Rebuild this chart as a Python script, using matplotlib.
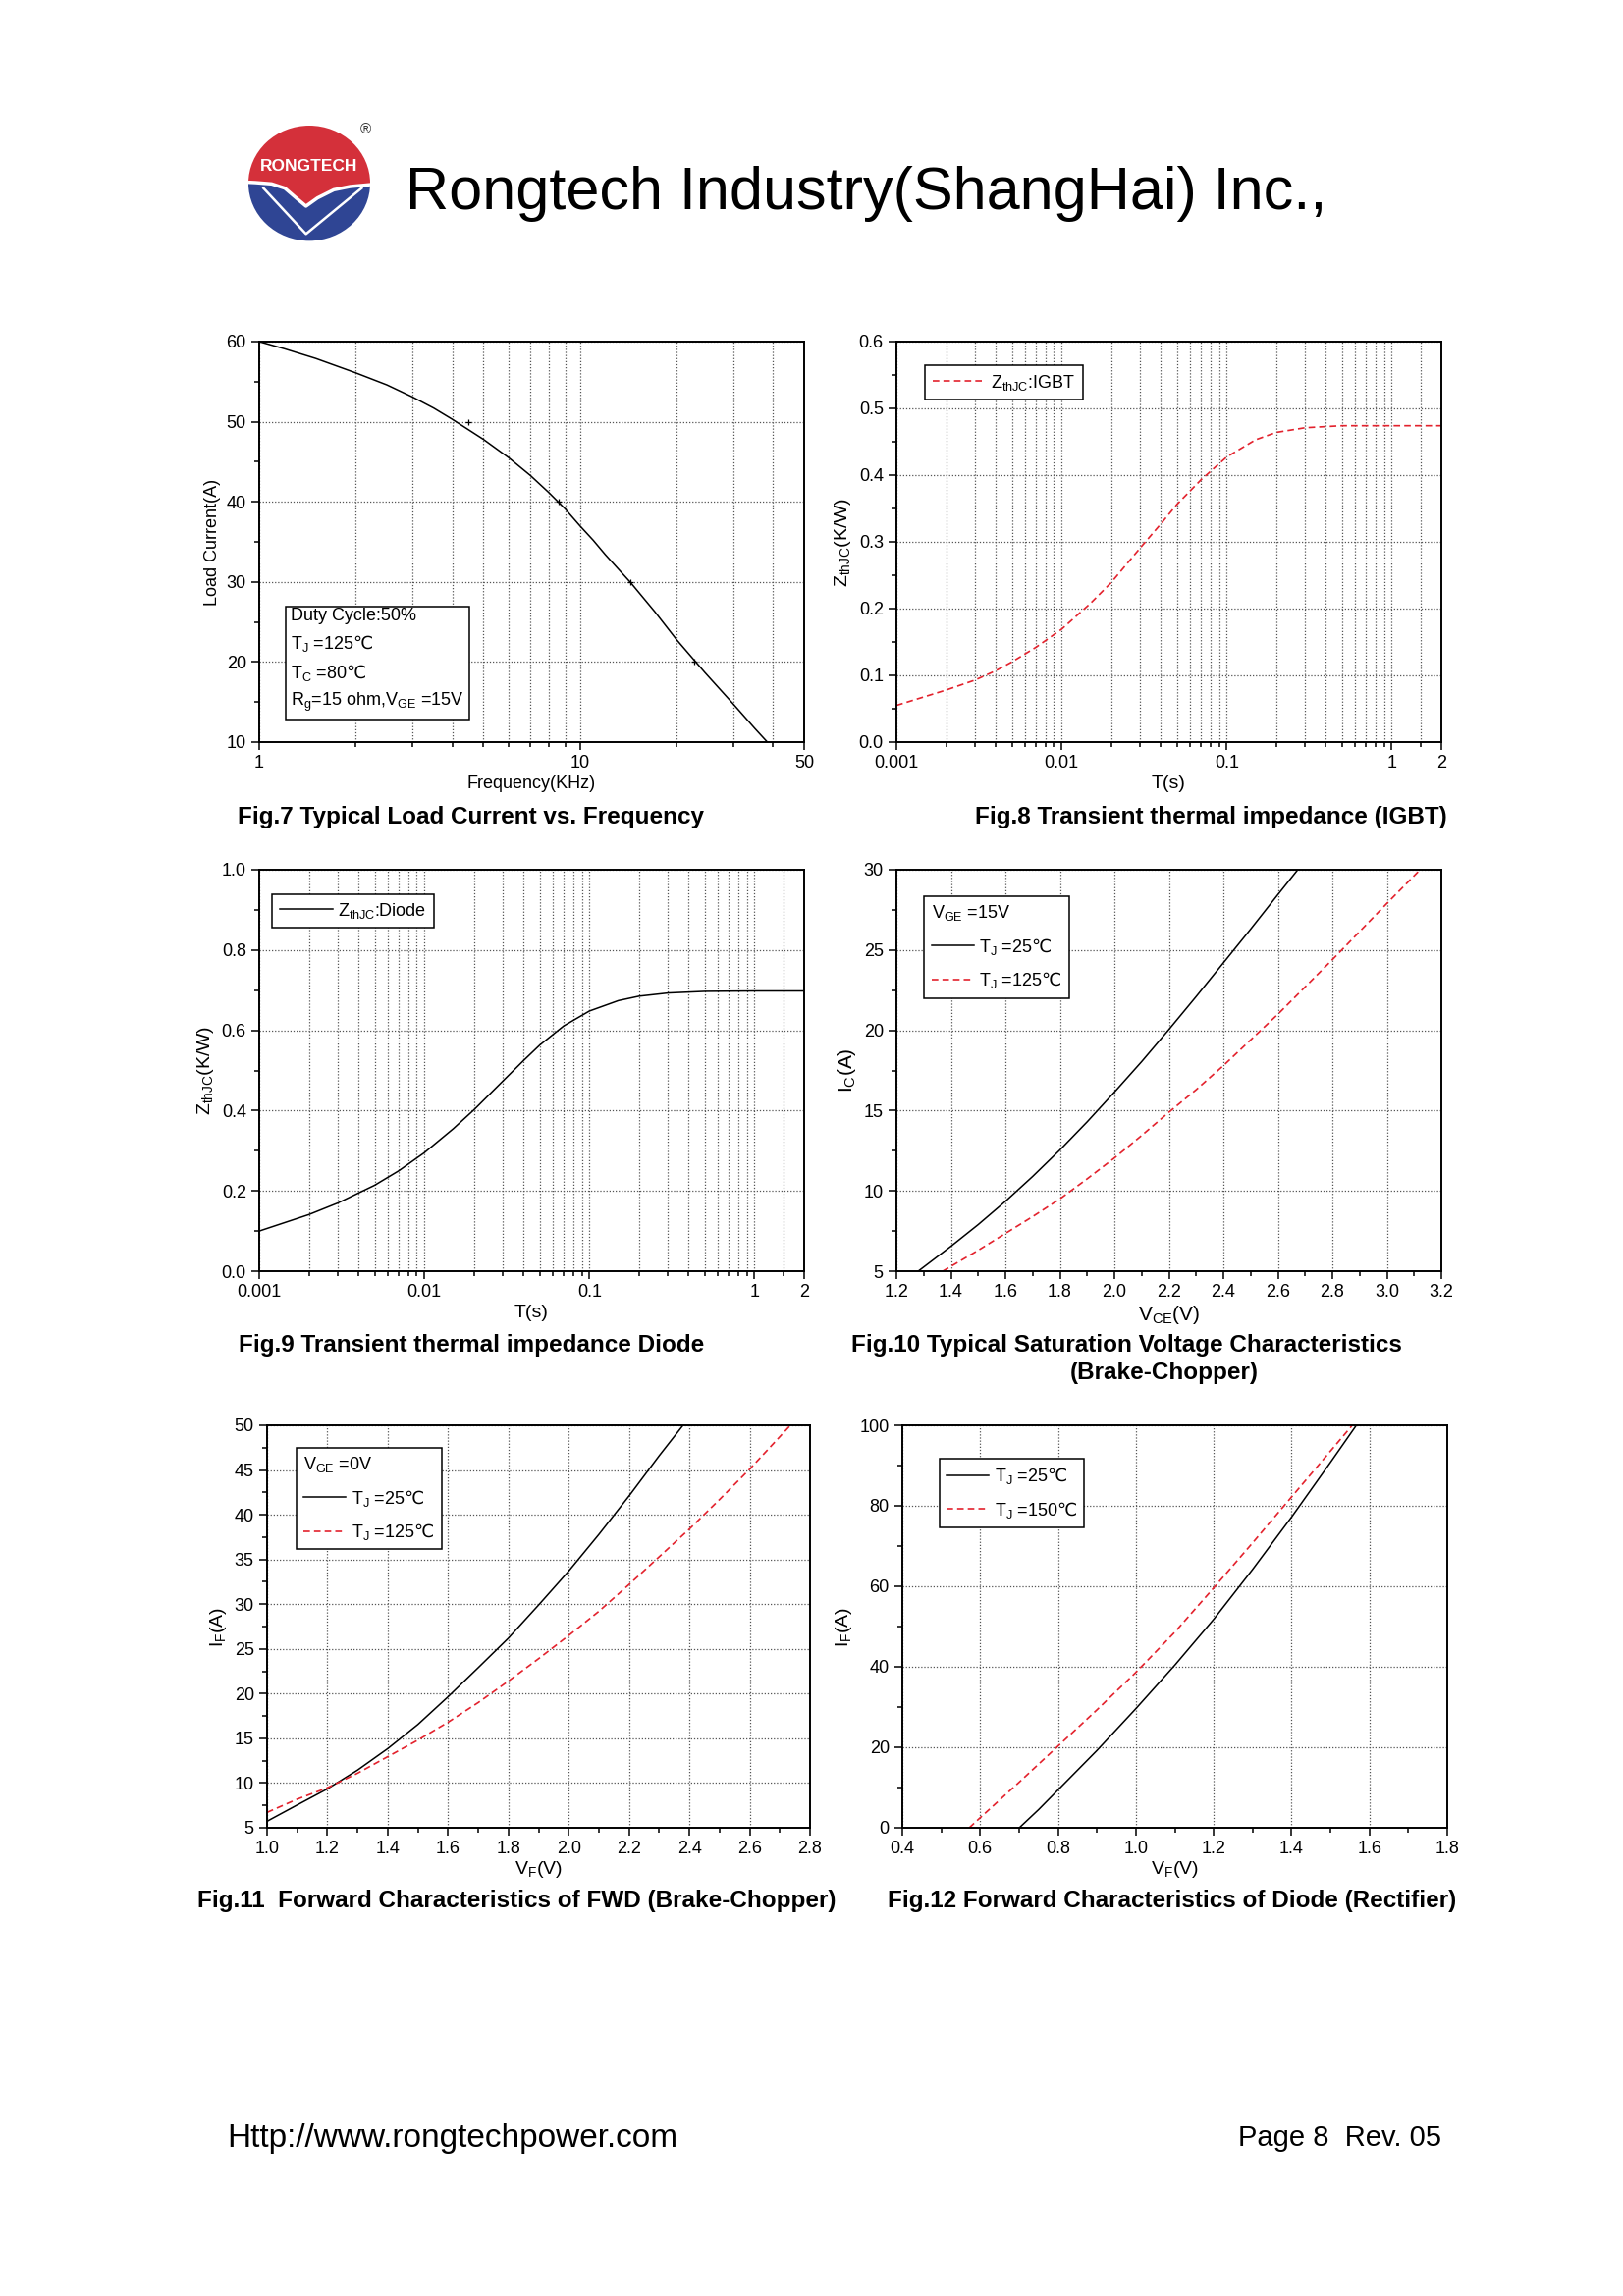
import matplotlib
matplotlib.use('Agg')
import matplotlib.pyplot as plt
import matplotlib.patches as mpatches
from matplotlib.lines import Line2D
from matplotlib.ticker import MultipleLocator, FixedLocator, NullFormatter, FormatStrFormatter

plt.rcParams['font.family'] = ['Liberation Sans', 'DejaVu Sans']
plt.rcParams['mathtext.fontset'] = 'custom'
plt.rcParams['mathtext.rm'] = 'Liberation Sans'
plt.rcParams['mathtext.it'] = 'Liberation Sans:italic'
plt.rcParams['mathtext.bf'] = 'Liberation Sans:bold'
plt.rcParams['mathtext.sf'] = 'DejaVu Sans'   # used only for the ℃ sign
plt.rcParams['mathtext.default'] = 'regular'

W, H = 1653, 2339
RED = '#e3222d'
DASH = (0, (4, 2.5))
DEG = r'$\mathsf{℃}$'

# --- Fig.7 load current vs frequency ---
freq = [1, 1.2, 1.5, 2, 2.5, 3, 3.5, 4, 5, 6, 7, 8, 9, 10, 11, 12, 14.4, 17.1, 20,
        24.5, 30, 35.1, 38.4]
load = [60, 59.1, 57.9, 56.1, 54.6, 53.1, 51.7, 50.3, 47.8, 45.5, 43.3, 41.15, 39.1,
        37.0, 35.2, 33.4, 29.9, 26.3, 22.8, 18.7, 14.8, 11.7, 10]
mark_f = [4.48, 8.58, 14.4, 22.7]
mark_i = [50, 40, 30, 20]

# --- Fig.8 / Fig.9 transient thermal impedance ---
t_igbt = [0.001, 0.002, 0.003, 0.004, 0.005, 0.007, 0.01, 0.015, 0.02, 0.03,
          0.04, 0.05, 0.07, 0.1, 0.15, 0.2, 0.3, 0.5, 1, 2]
z_igbt = [0.055, 0.078, 0.093, 0.107, 0.120, 0.142, 0.169, 0.208, 0.239, 0.291,
          0.327, 0.356, 0.393, 0.427, 0.453, 0.464, 0.471, 0.474, 0.474, 0.474]
t_diode = [0.001, 0.002, 0.003, 0.005, 0.007, 0.01, 0.015, 0.02, 0.03, 0.04,
           0.05, 0.07, 0.1, 0.15, 0.2, 0.3, 0.5, 1, 2]
z_diode = [0.100, 0.141, 0.170, 0.214, 0.250, 0.295, 0.355, 0.402, 0.474, 0.525,
           0.563, 0.611, 0.648, 0.674, 0.685, 0.693, 0.697, 0.698, 0.698]

# --- Fig.10 saturation voltage ---
vce_25 = [1.28, 1.4, 1.5, 1.6, 1.7, 1.8, 1.9, 2.0, 2.1, 2.2, 2.3, 2.4, 2.5, 2.6, 2.673]
ic_25 = [5.0, 6.55, 7.9, 9.35, 10.9, 12.55, 14.3, 16.15, 18.05, 20.05, 22.1, 24.2,
         26.3, 28.45, 30.0]
vce_125 = [1.37, 1.4, 1.5, 1.6, 1.7, 1.8, 1.9, 2.0, 2.1, 2.2, 2.3, 2.4, 2.5, 2.6,
           2.7, 2.8, 2.9, 3.0, 3.122]
ic_125 = [5.0, 5.3, 6.3, 7.35, 8.4, 9.5, 10.75, 12.05, 13.45, 14.9, 16.3, 17.8, 19.4,
          21.0, 22.7, 24.4, 26.15, 27.9, 30.0]

# --- Fig.11 FWD forward characteristics ---
vf_25 = [1.0, 1.1, 1.2, 1.3, 1.4, 1.5, 1.6, 1.7, 1.8, 1.9, 2.0, 2.1, 2.2, 2.3, 2.379]
if_25 = [5.73, 7.55, 9.35, 11.45, 13.85, 16.55, 19.65, 22.9, 26.2, 29.9, 33.7, 37.8,
         42.1, 46.6, 50.0]
vf_125 = [1.0, 1.1, 1.2, 1.3, 1.4, 1.5, 1.6, 1.7, 1.8, 1.9, 2.0, 2.1, 2.2, 2.3, 2.4,
          2.5, 2.6, 2.735]
if_125 = [6.72, 8.2, 9.47, 11.1, 12.95, 14.8, 16.8, 19.0, 21.4, 23.9, 26.5, 29.2, 32.2,
          35.3, 38.4, 41.7, 45.1, 50.0]

# --- Fig.12 rectifier diode ---
vfr_25 = [0.7005, 0.75, 0.8, 0.9, 1.0, 1.1, 1.2, 1.3, 1.4, 1.5, 1.5665]
ifr_25 = [0, 4.5, 9.4, 19.2, 29.6, 40.4, 51.8, 64.2, 77.2, 90.8, 100]
vfr_150 = [0.572, 0.6, 0.7, 0.8, 0.9, 1.0, 1.1, 1.2, 1.3, 1.4, 1.5, 1.556]
ifr_150 = [0, 2.5, 11.3, 20.3, 29.3, 38.6, 48.6, 59.6, 70.8, 82.2, 93.6, 100]


def box(l, t, r, b):
    return [l / W, 1 - b / H, (r - l) / W, (b - t) / H]


def frame(ax, logx=False):
    for s in ax.spines.values():
        s.set_linewidth(1.4)
    ax.tick_params(which='both', direction='out', labelsize=13, width=1.1)
    ax.tick_params(which='major', length=6)
    ax.tick_params(which='minor', length=3.5)
    ax.set_axisbelow(True)
    kw = dict(linestyle=(0, (1, 1.5)), color='#555555', linewidth=0.9)
    ax.grid(True, which='major', **kw)
    if logx:
        ax.grid(True, which='minor', axis='x', **kw)


def log_time_axis(ax):
    ax.set_xscale('log')
    ax.set_xlim(0.001, 2)
    ax.set_xticks([0.001, 0.01, 0.1, 1, 2])
    ax.set_xticklabels(['0.001', '0.01', '0.1', '1', '2'])
    minors = [m * d for d in (0.001, 0.01, 0.1) for m in range(2, 10)] + [1.5]
    ax.xaxis.set_minor_locator(FixedLocator(minors))
    ax.xaxis.set_minor_formatter(NullFormatter())


def legend(ax, handles, labels, x, y, title=None, hl=2.4):
    leg = ax.legend(handles, labels, loc='upper left', bbox_to_anchor=(x, y),
                    borderaxespad=0, fancybox=False, edgecolor='black', framealpha=1,
                    fontsize=13, handlelength=hl, handletextpad=0.3, borderpad=0.4,
                    labelspacing=0.75, title=title, title_fontsize=13, alignment='left')
    leg.get_frame().set_linewidth(1.1)
    return leg


fig = plt.figure(figsize=(W / 100, H / 100), dpi=100)

# ---------------- header ----------------
lg = fig.add_axes(box(240, 110, 400, 260))
lg.set_xlim(0, 480)
lg.set_ylim(450, 0)
lg.axis('off')
ell = mpatches.Ellipse((225, 230), 372, 352, fc='none', ec='none')
lg.add_patch(ell)
edge = [(0, 225), (60, 228), (110, 232), (150, 245), (185, 275), (215, 300),
        (250, 275), (300, 250), (350, 240), (480, 228)]
red = mpatches.Polygon(edge + [(480, 0), (0, 0)], fc='#d4303a', ec='none')
blue = mpatches.Polygon(edge + [(480, 450), (0, 450)], fc='#2f4594', ec='none')
for p in (red, blue):
    lg.add_patch(p)
    p.set_clip_path(ell)
ln = lg.plot([x for x, y in edge], [y for x, y in edge], color='white', lw=2.5)[0]
ln.set_clip_path(ell)
v = lg.plot([85, 215, 385], [245, 385, 245], color='white', lw=1.8)[0]
v.set_clip_path(ell)
lg.text(225, 180, 'RONGTECH', color='white', fontsize=12.5, fontweight='bold',
        ha='center', va='center')
lg.text(398, 65, '®', fontsize=11, ha='center', va='center', color='#333333')

fig.text(413 / W, 1 - 198 / H, 'Rongtech Industry(ShangHai) Inc.,', fontsize=44,
         va='center', ha='left')

# ---------------- Fig.7 ----------------
ax1 = fig.add_axes(box(264, 348, 819, 756))
ax1.plot(freq, load, color='black', lw=1.1)
ax1.plot(mark_f, mark_i, 'k+', ms=5, mew=0.9)
ax1.set_xscale('log')
ax1.set_xlim(1, 50)
ax1.set_ylim(10, 60)
ax1.set_xticks([1, 10, 50])
ax1.set_xticklabels(['1', '10', '50'])
ax1.xaxis.set_minor_locator(FixedLocator([2, 3, 4, 5, 6, 7, 8, 9, 20, 30, 40]))
ax1.xaxis.set_minor_formatter(NullFormatter())
ax1.yaxis.set_major_locator(MultipleLocator(10))
ax1.yaxis.set_minor_locator(MultipleLocator(5))
frame(ax1, logx=True)
ax1.set_xlabel('Frequency(KHz)', fontsize=13, labelpad=3)
ax1.set_ylabel('Load Current(A)', fontsize=13)
ax1.text(0.058, 0.335,
         'Duty Cycle:50%\nT$_J$ =125' + DEG + '\nT$_C$ =80' + DEG +
         '\nR$_g$=15 ohm,V$_{GE}$ =15V',
         transform=ax1.transAxes, fontsize=13, va='top', ha='left', linespacing=1.55,
         bbox=dict(boxstyle='square,pad=0.3', fc='white', ec='black', lw=1.1))

# ---------------- Fig.8 ----------------
ax2 = fig.add_axes(box(913, 348, 1468, 756))
ax2.plot(t_igbt, z_igbt, color=RED, lw=1.2, linestyle=DASH)
log_time_axis(ax2)
ax2.set_ylim(0, 0.6)
ax2.yaxis.set_major_locator(MultipleLocator(0.1))
ax2.yaxis.set_minor_locator(MultipleLocator(0.05))
ax2.yaxis.set_major_formatter(FormatStrFormatter('%.1f'))
frame(ax2, logx=True)
ax2.set_xlabel('T(s)', fontsize=14, labelpad=3)
ax2.set_ylabel('Z$_{thJC}$(K/W)', fontsize=14)
legend(ax2, [Line2D([], [], color=RED, lw=1.2, linestyle=DASH)], ['Z$_{thJC}$:IGBT'],
       0.053, 0.94, hl=3.0)

# ---------------- Fig.9 ----------------
ax3 = fig.add_axes(box(264, 886, 819, 1295))
ax3.plot(t_diode, z_diode, color='black', lw=1.1)
log_time_axis(ax3)
ax3.set_ylim(0, 1.0)
ax3.yaxis.set_major_locator(MultipleLocator(0.2))
ax3.yaxis.set_minor_locator(MultipleLocator(0.1))
ax3.yaxis.set_major_formatter(FormatStrFormatter('%.1f'))
frame(ax3, logx=True)
ax3.set_xlabel('T(s)', fontsize=14, labelpad=3)
ax3.set_ylabel('Z$_{thJC}$(K/W)', fontsize=14)
legend(ax3, [Line2D([], [], color='black', lw=1.1)], ['Z$_{thJC}$:Diode'], 0.024, 0.94,
       hl=3.0)

# ---------------- Fig.10 ----------------
ax4 = fig.add_axes(box(913, 886, 1468, 1295))
ax4.plot(vce_25, ic_25, color='black', lw=1.1)
ax4.plot(vce_125, ic_125, color=RED, lw=1.2, linestyle=DASH)
ax4.set_xlim(1.2, 3.2)
ax4.set_ylim(5, 30)
ax4.xaxis.set_major_locator(MultipleLocator(0.2))
ax4.xaxis.set_minor_locator(MultipleLocator(0.1))
ax4.xaxis.set_major_formatter(FormatStrFormatter('%.1f'))
ax4.yaxis.set_major_locator(MultipleLocator(5))
ax4.yaxis.set_minor_locator(MultipleLocator(2.5))
frame(ax4)
ax4.set_xlabel('V$_{CE}$(V)', fontsize=15, labelpad=2)
ax4.set_ylabel('I$_C$(A)', fontsize=15)
legend(ax4, [Line2D([], [], color='black', lw=1.1),
             Line2D([], [], color=RED, lw=1.2, linestyle=DASH)],
       ['T$_J$ =25' + DEG, 'T$_J$ =125' + DEG], 0.051, 0.934, title='V$_{GE}$ =15V')

# ---------------- Fig.11 ----------------
ax5 = fig.add_axes(box(272, 1452, 825, 1862))
ax5.plot(vf_25, if_25, color='black', lw=1.1)
ax5.plot(vf_125, if_125, color=RED, lw=1.2, linestyle=DASH)
ax5.set_xlim(1.0, 2.8)
ax5.set_ylim(5, 50)
ax5.xaxis.set_major_locator(MultipleLocator(0.2))
ax5.xaxis.set_minor_locator(MultipleLocator(0.1))
ax5.xaxis.set_major_formatter(FormatStrFormatter('%.1f'))
ax5.yaxis.set_major_locator(MultipleLocator(5))
ax5.yaxis.set_minor_locator(MultipleLocator(2.5))
frame(ax5)
ax5.set_xlabel('V$_F$(V)', fontsize=14, labelpad=1)
ax5.set_ylabel('I$_F$(A)', fontsize=14)
legend(ax5, [Line2D([], [], color='black', lw=1.1),
             Line2D([], [], color=RED, lw=1.2, linestyle=DASH)],
       ['T$_J$ =25' + DEG, 'T$_J$ =125' + DEG], 0.054, 0.944, title='V$_{GE}$ =0V')

# ---------------- Fig.12 ----------------
ax6 = fig.add_axes(box(919, 1452, 1474, 1862))
ax6.plot(vfr_25, ifr_25, color='black', lw=1.1)
ax6.plot(vfr_150, ifr_150, color=RED, lw=1.2, linestyle=DASH)
ax6.set_xlim(0.4, 1.8)
ax6.set_ylim(0, 100)
ax6.xaxis.set_major_locator(MultipleLocator(0.2))
ax6.xaxis.set_minor_locator(MultipleLocator(0.1))
ax6.xaxis.set_major_formatter(FormatStrFormatter('%.1f'))
ax6.yaxis.set_major_locator(MultipleLocator(20))
ax6.yaxis.set_minor_locator(MultipleLocator(10))
frame(ax6)
ax6.set_xlabel('V$_F$(V)', fontsize=14, labelpad=1)
ax6.set_ylabel('I$_F$(A)', fontsize=14)
legend(ax6, [Line2D([], [], color='black', lw=1.1),
             Line2D([], [], color=RED, lw=1.2, linestyle=DASH)],
       ['T$_J$ =25' + DEG, 'T$_J$ =150' + DEG], 0.068, 0.917)

# ---------------- captions ----------------
cap = dict(fontsize=17.5, fontweight='bold', va='center')
fig.text(242 / W, 1 - 832 / H, 'Fig.7 Typical Load Current vs. Frequency', ha='left', **cap)
fig.text(1474 / W, 1 - 832 / H, 'Fig.8 Transient thermal impedance (IGBT)', ha='right', **cap)
fig.text(243 / W, 1 - 1371 / H, 'Fig.9 Transient thermal impedance Diode', ha='left', **cap)
fig.text(867 / W, 1 - 1371 / H, 'Fig.10 Typical Saturation Voltage Characteristics',
         ha='left', **cap)
fig.text(1186 / W, 1 - 1399 / H, '(Brake-Chopper)', ha='center', **cap)
fig.text(201 / W, 1 - 1937 / H, 'Fig.11  Forward Characteristics of FWD (Brake-Chopper)',
         ha='left', **cap)
fig.text(904 / W, 1 - 1937 / H, 'Fig.12 Forward Characteristics of Diode (Rectifier)',
         ha='left', **cap)

# ---------------- footer ----------------
fig.text(231 / W, 1 - 2178 / H, 'Http://www.rongtechpower.com', fontsize=24,
         ha='left', va='center')
fig.text(1468 / W, 1 - 2178 / H, 'Page 8  Rev. 05', fontsize=21, ha='right', va='center')

fig.savefig('out.png', dpi=100, facecolor='white')
